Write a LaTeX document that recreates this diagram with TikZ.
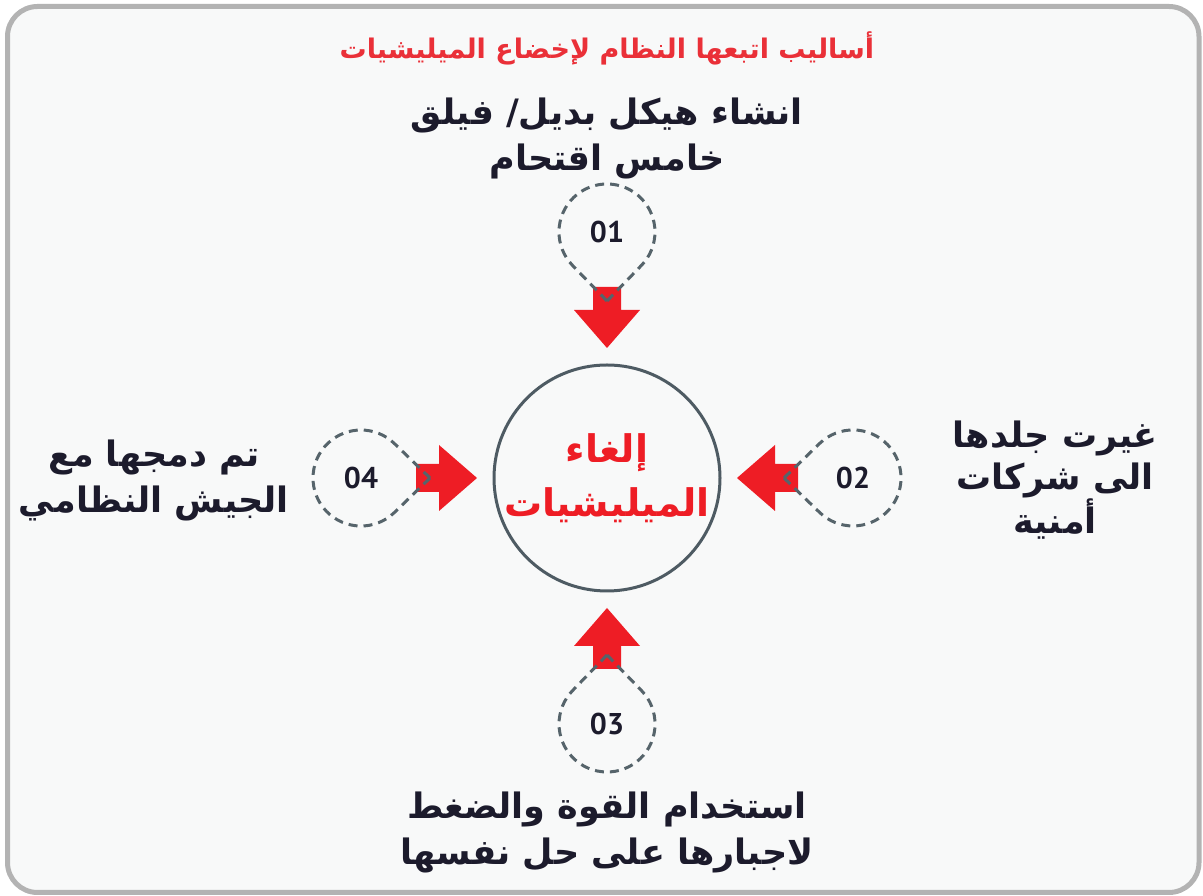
\documentclass[tikz,border=0pt]{standalone}
\usepackage{fontspec}
\TeXXeTstate=1
\newfontfamily\arabicfont[Script=Arabic]{DejaVu Sans}
\newfontfamily\numfont{PT Sans}
\definecolor{bgc}{HTML}{F8F9F9}
\definecolor{framec}{HTML}{B3B3B3}
\definecolor{ringc}{HTML}{4E5B63}
\definecolor{dashc}{HTML}{56646B}
\definecolor{redc}{HTML}{EE1D25}
\definecolor{titlec}{HTML}{EA3038}
\definecolor{inkc}{HTML}{1C1B2C}
\tikzset{
  arm/.pic={
    \fill[redc] (130,0) -- (168,33) -- (168,14) -- (191,14) -- (191,-14) -- (168,-14) -- (168,-33) -- cycle;
    \draw[dashc, line width=3, dash pattern=on 9 off 6] (177,0) -- (212.6,34.5) arc[start angle=134.1, end angle=-134.1, radius=48] -- cycle;
  },
  numtext/.style={text=inkc, font=\numfont\bfseries\fontsize{30}{30}\selectfont},
  bodytext/.style={text=inkc, align=center, font=\arabicfont\bfseries\fontsize{35}{46}\selectfont},
}
\begin{document}
\begin{tikzpicture}[x=1pt,y=1pt]
\useasboundingbox (0,0) rectangle (1203,896);
\draw[framec, line width=5, fill=bgc, rounded corners=30] (7.5,3.5) rectangle (1199,889.5);
\coordinate (O) at (607,418);
\pic at (O) {arm};
\pic[rotate=90] at (O) {arm};
\pic[rotate=180] at (O) {arm};
\pic[rotate=270] at (O) {arm};
\node[circle, draw=ringc, line width=3, minimum size=226, inner sep=0, text=redc, align=center,
  font=\arabicfont\bfseries\fontsize{38}{54}\selectfont] (core) at (O) {\beginR إلغاء\endR\\\beginR الميليشيات\endR};
\node[numtext] (n1) at (607,664) {01};
\node[numtext] (n2) at (853,418) {02};
\node[numtext] (n3) at (607,172) {03};
\node[numtext] (n4) at (361,418) {04};
\node[text=titlec, font=\arabicfont\bfseries\fontsize{27}{30}\selectfont] (title) at (607,848) {\beginR أساليب اتبعها النظام لإخضاع الميليشيات\endR};
\node[bodytext] (t1) at (607,758) {\beginR انشاء هيكل بديل/ فيلق\endR\\\beginR خامس اقتحام\endR};
\node[bodytext, font=\arabicfont\bfseries\fontsize{35}{42}\selectfont] (t2) at (1055,416) {\beginR غيرت جلدها\endR\\\beginR الى شركات\endR\\\beginR أمنية\endR};
\node[bodytext] (t3) at (607,64) {\beginR استخدام القوة والضغط\endR\\\beginR لاجبارها على حل نفسها\endR};
\node[bodytext] (t4) at (154,416) {\beginR تم دمجها مع\endR\\\beginR الجيش النظامي\endR};
\end{tikzpicture}
\end{document}
